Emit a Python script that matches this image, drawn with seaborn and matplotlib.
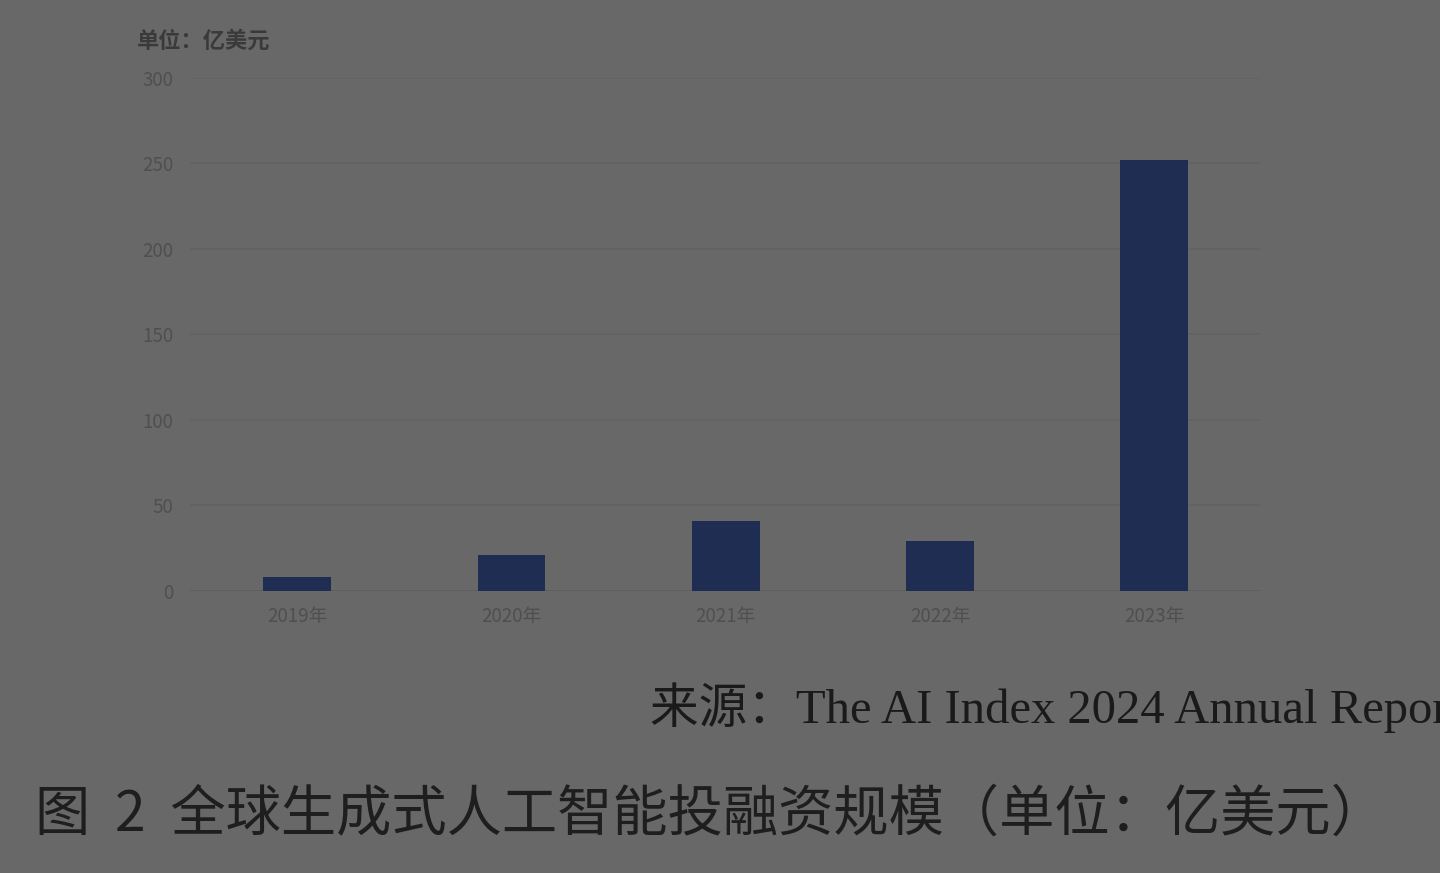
import matplotlib
matplotlib.use("Agg")
import matplotlib.pyplot as plt
import seaborn as sns
import pandas as pd

years = ["2019年", "2020年", "2021年", "2022年", "2023年"]
values = [8, 21, 41, 29, 252]
yticks = [0, 50, 100, 150, 200, 250, 300]
unit_label = "单位：亿美元"
source_text = "来源：The AI Index 2024 Annual Report"
caption = "图  2  全球生成式人工智能投融资规模（单位：亿美元）"

BG = "#686868"
sns.set_theme(style="white")
plt.rcParams['font.family'] = ['Noto Sans CJK SC', 'DejaVu Sans']

df = pd.DataFrame({"year": years, "value": values})

fig = plt.figure(figsize=(14.4, 8.73), dpi=100, facecolor=BG)
ax = fig.add_axes([0.132, 0.323, 0.744, 0.588])
ax.set_facecolor(BG)

sns.barplot(data=df, x="year", y="value", color="#1f2d52", width=0.316,
            saturation=1, linewidth=0, ax=ax, zorder=3)

ax.set_xlim(-0.5, 4.5)
ax.set_ylim(0, 300)
ax.set_yticks(yticks)
ax.set_yticklabels([str(t) for t in yticks])
ax.yaxis.grid(True, color="#626262", linewidth=1.2, zorder=0)
ax.set_xlabel("")
ax.set_ylabel("")
for s in ax.spines.values():
    s.set_visible(False)
ax.axhline(0, color="#5e5e5e", linewidth=1.4, zorder=2)
ax.tick_params(axis="both", length=0, colors="#4f4f4f", labelsize=13.5)
ax.tick_params(axis="y", pad=12)
ax.tick_params(axis="x", pad=11)

fig.text(137 / 1440, 1 - 41 / 873, unit_label, fontsize=16, color="#3a3a3a",
         fontweight="bold", va="center", ha="left")

fig.text(650 / 1440, 1 - 708 / 873, source_text, fontsize=35, color="#1a1a1a",
         va="center", ha="left",
         family=['Liberation Serif', 'Noto Sans CJK SC'])

fig.text(35 / 1440, 1 - 815 / 873, caption, fontsize=39.8, color="#1e1e1e",
         va="center", ha="left", fontweight="light")

fig.savefig("out.png", dpi=100, facecolor=BG)
